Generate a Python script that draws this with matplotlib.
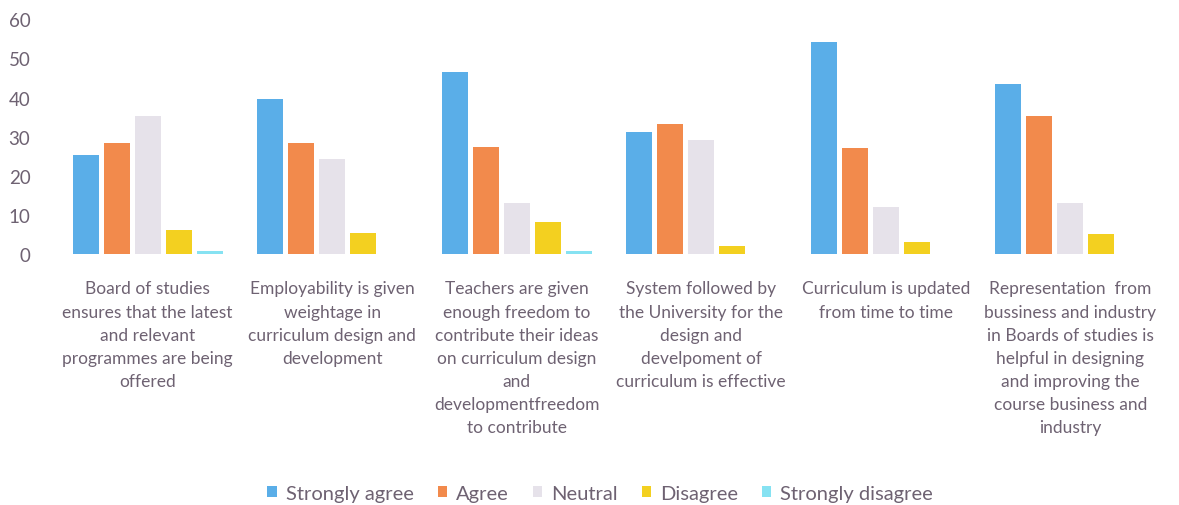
import matplotlib.pyplot as plt
import numpy as np

# Survey responses per statement (percent)
categories = [
    "Board of studies\nensures that the latest\nand relevant\nprogrammes are being\noffered",
    "Employability is given\nweightage in\ncurriculum design and\ndevelopment",
    "Teachers are given\nenough freedom to\ncontribute their ideas\non curriculum design\nand\ndevelopmentfreedom\nto contribute",
    "System followed by\nthe University for the\ndesign and\ndevelpoment of\ncurriculum is effective",
    "Curriculum is updated\nfrom time to time",
    "Representation  from\nbussiness and industry\nin Boards of studies is\nhelpful in designing\nand improving the\ncourse business and\nindustry",
]
series_names = ["Strongly agree", "Agree", "Neutral", "Disagree", "Strongly disagree"]
strongly_agree = [25.3, 39.5, 46.4, 31.1, 54.3, 43.4]
agree = [28.3, 28.3, 27.3, 33.2, 27.1, 35.2]
neutral = [35.2, 24.3, 13.1, 29.2, 12.1, 13.1]
disagree = [6.2, 5.3, 8.3, 2.1, 3.2, 5.2]
strongly_disagree = [0.9, 0.0, 0.8, 0.0, 0.0, 0.0]
yticks = [0, 10, 20, 30, 40, 50, 60]

series = [strongly_agree, agree, neutral, disagree, strongly_disagree]
colors = ["#5aaee8", "#f28a4c", "#e6e2ea", "#f3d020", "#86e2f2"]
text_color = "#6e6272"

plt.rcParams['font.family'] = ['Lato', 'DejaVu Sans']

fig = plt.figure(figsize=(11.79, 5.06), dpi=100)
ax = fig.add_axes([0.047, 0.496, 0.939, 0.464])

x = np.arange(len(categories))
width = 0.14
pitch = 0.168
for i, (vals, name, c) in enumerate(zip(series, series_names, colors)):
    ax.bar(x + (i - 2) * pitch, vals, width, color=c, label=name)

ax.set_xlim(-0.5, len(categories) - 0.5)
ax.set_ylim(0, 60)
ax.set_yticks(yticks)
ax.set_xticks(x)
ax.set_xticklabels(categories, fontsize=12.5, color=text_color, linespacing=1.55)
ax.tick_params(axis='y', labelsize=13.5, colors=text_color, length=0, pad=18)
ax.tick_params(axis='x', length=0, pad=19)
for s in ax.spines.values():
    s.set_visible(False)

ax.legend(loc='center', bbox_to_anchor=(0.492, -1.02), ncol=5, frameon=False,
          fontsize=14.5, labelcolor=text_color, handlelength=0.45, handleheight=0.45,
          handletextpad=0.45, columnspacing=1.2)

fig.savefig("out.png", dpi=100)
